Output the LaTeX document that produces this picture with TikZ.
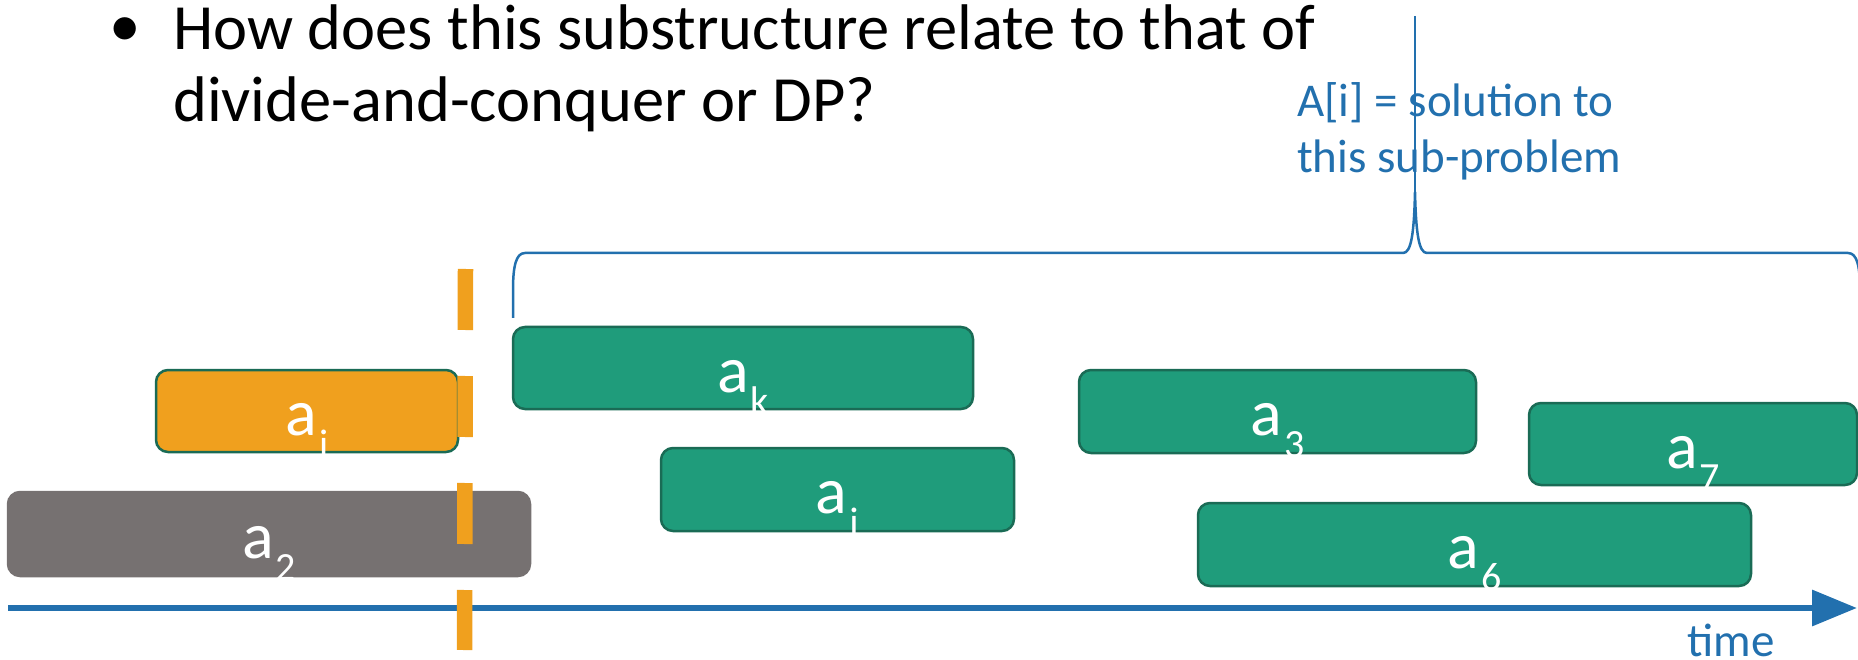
\documentclass[tikz,border=0pt]{standalone}
\usepackage{fontspec}
\setmainfont{Carlito}
\usetikzlibrary{arrows.meta}

\definecolor{actgreen}{HTML}{1F9C7B}
\definecolor{actedge}{HTML}{1A6B55}
\definecolor{actorange}{HTML}{F0A01E}
\definecolor{actgray}{HTML}{767171}
\definecolor{accblue}{HTML}{2270AE}

% activity label: "a" with a lowered subscript
\newcommand\actlab[1]{a\kern2pt\raisebox{-22pt}{\fontsize{40}{40}\selectfont #1}}

\tikzset{
  act/.style={draw=actedge, line width=2.5pt, rounded corners=12pt, fill=actgreen, inner sep=0pt},
  actsel/.style={act, fill=actorange},
  actout/.style={act, draw=actgray, fill=actgray},
  lbl/.style={anchor=base, inner sep=0pt, text=white, font=\fontsize{66}{80}\selectfont},
  bullettext/.style={anchor=base west, inner sep=0pt, font=\fontsize{64.5}{76}\selectfont},
  note/.style={anchor=base west, inner sep=0pt, text=accblue, font=\fontsize{47}{56}\selectfont},
  timeaxis/.style={draw=accblue, line width=6.5pt, -{Triangle[length=45pt,width=35pt]}},
  cutline/.style={draw=actorange, line width=15.5pt, dash pattern=on 61pt off 46pt},
  brace/.style={draw=accblue, line width=2.5pt},
}

\begin{document}
\begin{tikzpicture}[x=1pt,y=-1pt]
\useasboundingbox (0,0) rectangle (1858,660);

% question text
\node[anchor=center, inner sep=0pt, font=\fontsize{63}{74}\selectfont] (bul) at (125,32) {•};
\node[bullettext] (q1) at (173,50) {How does this substructure relate to that of};
\node[bullettext] (q2) at (173,122) {divide-and-conquer or DP?};

% sub-problem note
\node[note] (n1) at (1297,117) {A[i] = solution to};
\node[note] (n2) at (1297,173) {this sub-problem};

% activity boxes
\node[actsel, minimum width=302pt, minimum height=82pt] (ai) at (307,411) {};
\node[actout, minimum width=522pt, minimum height=84pt] (a2) at (269,534) {};
\node[act, minimum width=460pt, minimum height=82pt] (ak) at (743,368) {};
\node[act, minimum width=353pt, minimum height=83pt] (aj) at (837.5,489.5) {};
\node[act, minimum width=397pt, minimum height=83pt] (a3) at (1277.5,411.5) {};
\node[act, minimum width=328pt, minimum height=82pt] (a7) at (1693,444) {};
\node[act, minimum width=553pt, minimum height=83pt] (a6) at (1474.5,544.5) {};

% labels
\node[lbl] (lai) at ([yshift=-24pt]ai.center) {\actlab{i}};
\node[lbl] (la2) at ([yshift=-24pt]a2.center) {\actlab{2}};
\node[lbl] (lak) at ([yshift=-24pt]ak.center) {\actlab{k}};
\node[lbl] (laj) at ([yshift=-24pt]aj.center) {\actlab{j}};
\node[lbl] (la3) at ([yshift=-24pt]a3.center) {\actlab{3}};
\node[lbl] (la7) at ([yshift=-24pt]a7.center) {\actlab{7}};
\node[lbl] (la6) at ([yshift=-24pt]a6.center) {\actlab{6}};

% time axis
\coordinate (t0) at (8,608);
\coordinate (t1) at (1857,608);
\draw[timeaxis] (t0) -- (t1);
\node[anchor=base, inner sep=0pt, text=accblue, font=\fontsize{47}{56}\selectfont] (time) at (1731,656) {time};

% finishing time of a_i
\coordinate (c0) at (465.5,269);
\coordinate (c1) at (464.5,650);
\draw[cutline] (c0) -- (c1);

% brace over the sub-problem, with its pointer up to the note
\coordinate (tip) at (1415,192);
\coordinate (ptop) at (1415,16);
\draw[accblue, line width=1.2pt] (ptop) -- (tip);
\draw[brace] (513,318) -- (513,290)
  .. controls (513,266) and (516,253) .. (525,253)
  -- (1403,253)
  .. controls (1411,253) and (1414,235) .. (tip)
  .. controls (1416,235) and (1419,253) .. (1427,253)
  -- (1848,253)
  .. controls (1857,253) and (1860,266) .. (1860,290)
  -- (1860,318);
\end{tikzpicture}
\end{document}
